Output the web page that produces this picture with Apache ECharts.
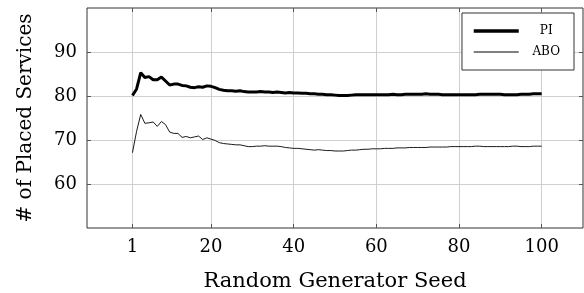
<!DOCTYPE html>
<html>
<head>
<meta charset="utf-8">
<script src="https://cdn.jsdelivr.net/npm/echarts@6/dist/echarts.min.js"></script>
<style>
  html, body { margin: 0; padding: 0; background: #fff; }
  #chart { width: 584px; height: 293px; }
</style>
</head>
<body>
<div id="chart"></div>
<script>
// seeds 1..100
var seeds = [];
for (var s = 1; s <= 100; s++) seeds.push(s);

var piValues = [
    80.1, 81.6, 85.3, 84.2, 84.4, 83.7, 83.7, 84.3, 83.4, 82.5,
    82.7, 82.7, 82.4, 82.3, 82.0, 81.9, 82.1, 82.0, 82.3, 82.2,
    81.9, 81.5, 81.3, 81.2, 81.2, 81.1, 81.2, 81.0, 80.9, 80.9,
    80.9, 81.0, 80.9, 80.9, 80.8, 80.9, 80.8, 80.7, 80.8, 80.7,
    80.7, 80.6, 80.6, 80.5, 80.5, 80.4, 80.4, 80.3, 80.3, 80.2,
    80.1, 80.1, 80.1, 80.2, 80.3, 80.3, 80.3, 80.3, 80.3, 80.3,
    80.3, 80.3, 80.3, 80.4, 80.3, 80.3, 80.4, 80.4, 80.4, 80.4,
    80.4, 80.5, 80.4, 80.4, 80.4, 80.3, 80.3, 80.3, 80.3, 80.3,
    80.3, 80.3, 80.3, 80.3, 80.4, 80.4, 80.4, 80.4, 80.4, 80.4,
    80.3, 80.3, 80.3, 80.3, 80.4, 80.4, 80.4, 80.5, 80.5, 80.5
];
var aboValues = [
    67.1, 72.0, 75.8, 73.8, 73.9, 74.1, 73.1, 74.2, 73.5, 71.8,
    71.5, 71.5, 70.6, 70.8, 70.5, 70.7, 70.9, 70.1, 70.5, 70.2,
    69.9, 69.4, 69.2, 69.1, 69.0, 68.9, 68.9, 68.7, 68.5, 68.5,
    68.6, 68.6, 68.7, 68.6, 68.6, 68.6, 68.5, 68.3, 68.2, 68.1,
    68.1, 68.0, 67.9, 67.8, 67.7, 67.8, 67.7, 67.6, 67.6, 67.5,
    67.5, 67.5, 67.6, 67.7, 67.7, 67.8, 67.9, 67.9, 68.0, 68.0,
    68.0, 68.1, 68.1, 68.1, 68.2, 68.2, 68.2, 68.3, 68.3, 68.3,
    68.3, 68.3, 68.4, 68.4, 68.4, 68.4, 68.4, 68.5, 68.5, 68.5,
    68.5, 68.5, 68.5, 68.6, 68.6, 68.5, 68.5, 68.5, 68.5, 68.5,
    68.5, 68.5, 68.6, 68.6, 68.5, 68.5, 68.5, 68.6, 68.6, 68.6
];
var xTicks = [1, 20, 40, 60, 80, 100];
var yTicks = [60, 70, 80, 90];

function pairs(vals) {
    return seeds.map(function (x, i) { return [x, vals[i]]; });
}

var font = 'DejaVu Serif';
var tickStyle = { show: true, inside: true, length: 4, lineStyle: { color: '#555', width: 1 } };
var gridLine = { show: true, lineStyle: { color: '#cfcfcf', width: 1 } };

var chart = echarts.init(document.getElementById('chart'));

var option = {
    animation: false,
    grid: {
        left: 87, top: 8, right: 1, bottom: 65,
        outerBoundsMode: 'none',
        containLabel: false,
        show: true, borderColor: '#333', borderWidth: 1
    },
    legend: {
        orient: 'vertical',
        right: 10, top: 13,
        backgroundColor: '#fff',
        borderColor: '#333',
        borderWidth: 1,
        borderRadius: 0,
        padding: [12, 14, 12, 10],
        itemGap: 9,
        itemWidth: 45,
        itemHeight: 14,
        itemStyle: { opacity: 0 },   // hide the symbol, keep the line
        lineStyle: { opacity: 1, width: 'inherit' },
        formatter: '{t|{name}}',
        textStyle: {
            fontFamily: font, color: '#000',
            rich: { t: { fontFamily: font, fontSize: 12, width: 45, height: 14, align: 'center' } }
        },
        data: [
            { name: 'PI', lineStyle: { width: 3.5 } },
            { name: 'ABO', lineStyle: { width: 1 } }
        ]
    },
    xAxis: [{
        type: 'value',
        min: -10, max: 110,
        name: 'Random Generator Seed',
        nameLocation: 'middle',
        nameGap: 43,
        nameTextStyle: { fontFamily: font, fontSize: 21, color: '#000' },
        axisLine: { show: false, onZero: false },
        axisTick: Object.assign({ customValues: xTicks }, tickStyle),
        axisLabel: {
            customValues: xTicks,
            fontFamily: font, fontSize: 18, color: '#000', margin: 10
        },
        splitLine: Object.assign({ customValues: xTicks }, gridLine)
    }, {
        type: 'value',
        position: 'top',
        min: -10, max: 110,
        axisLine: { show: false, onZero: false },
        axisTick: Object.assign({ customValues: xTicks }, tickStyle),
        axisLabel: { show: false },
        splitLine: { show: false }
    }],
    yAxis: [{
        type: 'value',
        min: 50, max: 100,
        name: '# of Placed Services',
        nameLocation: 'middle',
        nameGap: 51,
        nameTextStyle: { fontFamily: font, fontSize: 20, color: '#000' },
        axisLine: { show: false, onZero: false },
        axisTick: Object.assign({ customValues: yTicks }, tickStyle),
        axisLabel: {
            customValues: yTicks,
            fontFamily: font, fontSize: 18, color: '#000', margin: 10
        },
        splitLine: Object.assign({ customValues: yTicks }, gridLine)
    }, {
        type: 'value',
        position: 'right',
        min: 50, max: 100,
        axisLine: { show: false, onZero: false },
        axisTick: Object.assign({ customValues: yTicks }, tickStyle),
        axisLabel: { show: false },
        splitLine: { show: false }
    }],
    series: [
        {
            name: 'PI',
            type: 'line',
            data: pairs(piValues),
            symbol: 'none',
            lineStyle: { color: '#000', width: 3 },
            itemStyle: { color: '#000' }
        },
        {
            name: 'ABO',
            type: 'line',
            data: pairs(aboValues),
            symbol: 'none',
            lineStyle: { color: '#000', width: 0.9 },
            itemStyle: { color: '#000' }
        }
    ]
};
chart.setOption(option);
</script>
</body>
</html>
